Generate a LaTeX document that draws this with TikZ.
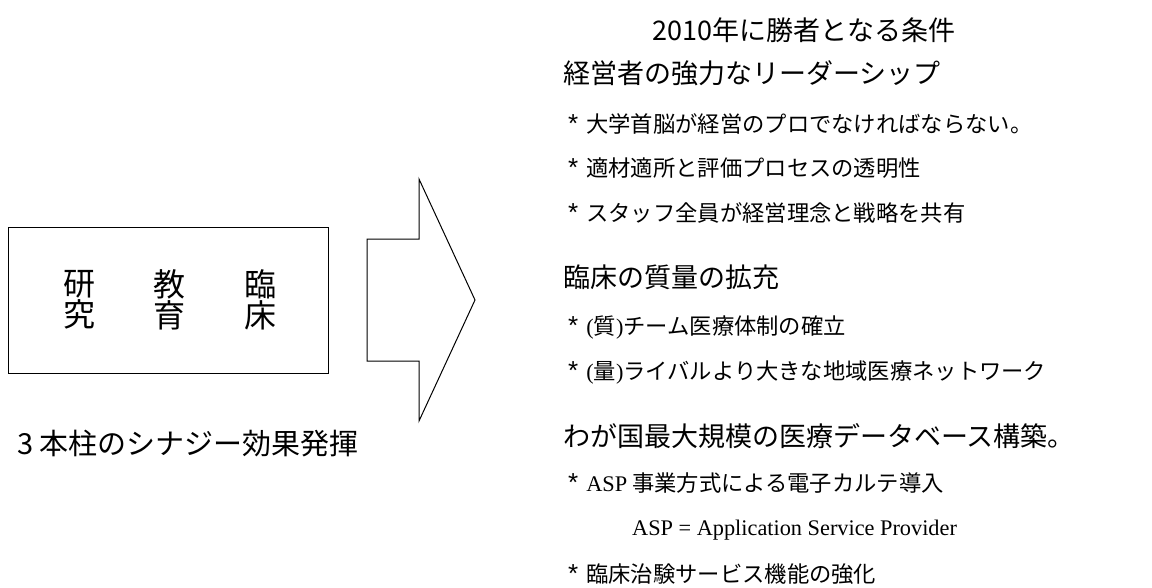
\documentclass[tikz,border=0pt]{standalone}
\usepackage{fontspec}
\setmainfont{Noto Sans CJK JP}
\newfontfamily\romfont{Liberation Serif}
\newfontfamily\sansfont{Liberation Sans}
\usetikzlibrary{positioning}

\newcommand{\astr}{{\sansfont\fontsize{26}{26}\selectfont *}\hspace{8pt}}
\tikzset{
  head/.style={font=\fontsize{27}{30}\selectfont, inner sep=0pt},
  item/.style={font=\fontsize{22.3}{24}\selectfont, inner sep=0pt, anchor=west},
  pillar/.style={font=\fontsize{32}{34}\selectfont, inner sep=0pt, align=center}
}

\begin{document}
\begin{tikzpicture}[x=1pt, y=-1pt]
 	\useasboundingbox (0,0) rectangle (1152,587);
 	% left box with the three pillars
 	\draw [line width=1pt] (8,227) rectangle (328,373);
 	\node [pillar] (kenkyu) at (79,300) {研\\[-3pt]究};
 	\node [pillar] (kyoiku) at (169,300) {教\\[-3pt]育};
 	\node [pillar] (rinsho) at (260,300) {臨\\[-3pt]床};
 	\node [head, anchor=west, font=\fontsize{29}{30}\selectfont] (synergy) at (17,444) {3 本柱のシナジー効果発揮};
 	
 	% block arrow
 	\draw [line width=1pt] (367,239) -- (419,239) -- (419,179) -- (475,300) -- (419,421) -- (419,361) -- (367,361) -- cycle;
 	
 	% conditions
 	\node [head] (title) at (804,30) {2010年に勝者となる条件};
 	\node [head, anchor=west] (lead) at (563,73) {経営者の強力なリーダーシップ};
 	\node [item] (lead1) at (568,124) {\astr 大学首脳が経営のプロでなければならない。};
 	\node [item] (lead2) at (568,168) {\astr 適材適所と評価プロセスの透明性};
 	\node [item] (lead3) at (568,213) {\astr スタッフ全員が経営理念と戦略を共有};
 	\node [head, anchor=west] (clinic) at (563,277) {臨床の質量の拡充};
 	\node [item] (clinic1) at (568,327) {\astr{\romfont(}質{\romfont)}チーム医療体制の確立};
 	\node [item] (clinic2) at (568,373) {\astr{\romfont(}量{\romfont)}ライバルより大きな地域医療ネットワーク};
 	\node [head, anchor=west] (data) at (563,436) {わが国最大規模の医療データベース構築。};
 	\node [item] (data1) at (568,483) {\astr{\romfont ASP} 事業方式による電子カルテ導入};
 	\node [item, font=\romfont\fontsize{22.3}{24}\selectfont] (asp) at (632,530) {ASP = Application Service Provider};
 	\node [item] (data2) at (568,574) {\astr 臨床治験サービス機能の強化};
\end{tikzpicture}
\end{document}
